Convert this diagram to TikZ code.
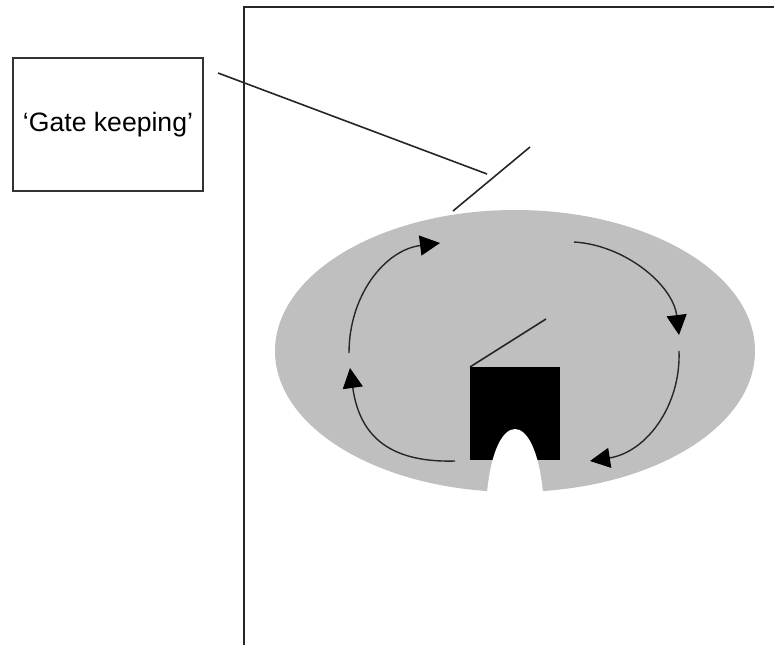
\documentclass[tikz,border=0pt]{standalone}
\usepackage{fontspec}
\setmainfont{Liberation Sans}
\usetikzlibrary{arrows.meta,positioning}

\begin{document}
\begin{tikzpicture}[x=1pt,y=-1pt,>={Triangle[length=20pt,width=20pt]},
    thinline/.style={line width=1.6pt,draw=black!85},
    cycle/.style={line width=1.4pt,draw=black!85,-{Triangle[length=20pt,width=20pt,color=black]}},
    label/.style={draw=black!80,line width=1.6pt,minimum width=190pt,minimum height=133pt,inner sep=0pt,font=\fontsize{26.6}{30}\selectfont}]
    \useasboundingbox (0,0) rectangle (774,645);
    % outer frame runs off the page
    \coordinate (framebl) at (244,645);
    \coordinate (frametl) at (244,7);
    \coordinate (frametr) at (774,7);
    \draw[thinline] (framebl)--(frametl)--(frametr);
    \node[label] (gate) at (108,124.5) {\raisebox{-1.5pt}{`Gate keeping'}};
    % grey field
    \fill[black!25] (515,351) ellipse [x radius=240,y radius=141];
    % hut and its opening
    \fill[black] (470,367) rectangle (560,460);
    \fill[white] (487,493) .. controls (491,450) and (503,429) .. (515,429)
        .. controls (527,429) and (539,450) .. (543,493) -- cycle;
    % pointer lines
    \coordinate (pointerstart) at (218,73);
    \coordinate (pointerend) at (487,174);
    \coordinate (gatelow) at (453,211);
    \coordinate (gatehigh) at (530,147);
    \coordinate (hutcorner) at (470,367);
    \coordinate (hutflap) at (546,319);
    \draw[thinline] (pointerstart)--(pointerend);
    \draw[thinline] (gatelow)--(gatehigh);
    \draw[thinline] (hutcorner)--(hutflap);
    % the four arcs
    \coordinate (topright) at (574,242);
    \coordinate (righthigh) at (679,335);
    \coordinate (rightlow) at (679,351);
    \coordinate (bottomright) at (590,461);
    \coordinate (bottomleft) at (455,461);
    \coordinate (lefthigh) at (350,368);
    \coordinate (leftmid) at (349,353);
    \coordinate (topleft) at (440,243);
    \draw[cycle] (topright) .. controls (625,245) and (673,285) .. (righthigh);
    \draw[cycle] (rightlow) .. controls (681,405) and (647,452) .. (bottomright);
    \draw[cycle] (bottomleft) .. controls (385,463) and (359,432) .. (lefthigh);
    \draw[cycle] (leftmid) .. controls (349,295) and (385,250) .. (topleft);
\end{tikzpicture}
\end{document}
